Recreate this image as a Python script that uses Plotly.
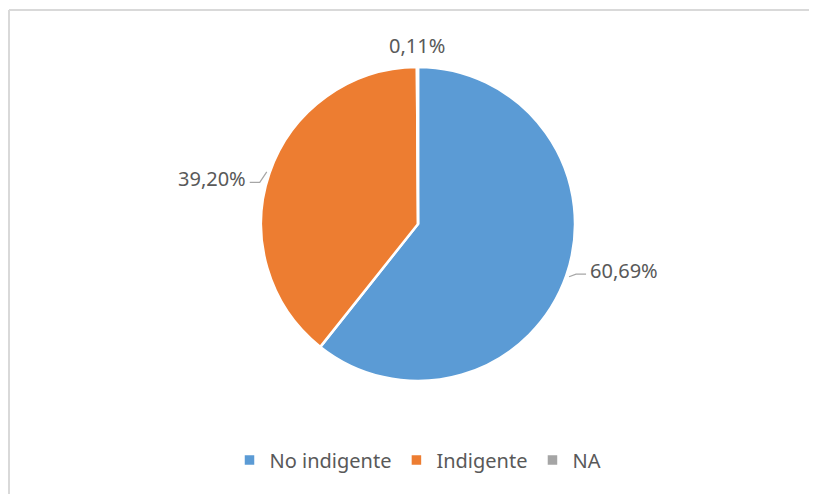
import math
import plotly.graph_objects as go

categories = ["No indigente", "Indigente", "NA"]
values = [60.69, 39.20, 0.11]
labels_text = ["60,69%", "39,20%", "0,11%"]
colors = ["#5B9BD5", "#ED7D31", "#A5A5A5"]

W, H = 817, 494
cx, cy, r = 410, 216, 157          # pie centre / radius in pixels
TEXT = "#595959"
FONT = "Noto Sans"

def px(x):
    return x / W

def py(y):
    return 1 - y / H

fig = go.Figure(go.Pie(
    labels=categories,
    values=values,
    textinfo="none",
    sort=False,
    direction="clockwise",
    rotation=0,
    marker=dict(colors=colors, line=dict(color="white", width=2.5)),
    hoverinfo="label+percent",
    domain=dict(x=[px(cx - r), px(cx + r)], y=[py(cy + r), py(cy - r)]),
))

# outside labels with leader lines, positioned from the data angles
annotations = []
shapes = []
total = sum(values)
cum = 0.0
for v, t in zip(values, labels_text):
    mid = 2 * math.pi * (cum + v / 2) / total
    cum += v
    dx, dy = math.sin(mid), -math.cos(mid)
    if abs(dx) > 0.3:
        side = 1 if dx > 0 else -1
        ex, ey = cx + (r + 3) * dx, cy + (r + 3) * dy
        ty = cy + 140 * dy
        ly = ty + 4
        bx = ex + side * 7
        hx = bx + side * 10
        shapes.append(dict(type="path", xref="paper", yref="paper",
                           path=f"M {px(ex)},{py(ey)} L {px(bx)},{py(ly)} L {px(hx)},{py(ly)}",
                           line=dict(color="#A6A6A6", width=1.2)))
        annotations.append(dict(x=px(hx + side * 2), y=py(ty), xref="paper", yref="paper",
                                text=t, showarrow=False,
                                xanchor="left" if side > 0 else "right", yanchor="middle",
                                font=dict(family=FONT, size=20, color=TEXT)))
    else:
        lx, ly = cx + (r + 6) * dx, cy + (r + 6) * dy
        annotations.append(dict(x=px(lx), y=py(ly), xref="paper", yref="paper",
                                text=t, showarrow=False,
                                xanchor="center", yanchor="bottom",
                                font=dict(family=FONT, size=20, color=TEXT)))

# chart-area border (left and top edges visible)
shapes.append(dict(type="line", xref="paper", yref="paper",
                   x0=px(1), x1=px(1), y0=0, y1=py(2), line=dict(color="#D9D9D9", width=2)))
shapes.append(dict(type="line", xref="paper", yref="paper",
                   x0=px(1), x1=1, y0=py(2), y1=py(2), line=dict(color="#D9D9D9", width=2)))

fig.update_layout(
    width=W, height=H,
    margin=dict(l=0, r=0, t=0, b=0),
    paper_bgcolor="white",
    plot_bgcolor="white",
    font=dict(family=FONT, size=20, color=TEXT),
    showlegend=True,
    legend=dict(orientation="h", x=px(410), xanchor="center", y=py(452), yanchor="middle",
                font=dict(family=FONT, size=20, color=TEXT),
                itemwidth=30, traceorder="normal"),
    annotations=annotations,
    shapes=shapes,
)

fig.write_html("out.html", post_script="document.documentElement.style.overflow='hidden';document.body.style.overflow='hidden';")
